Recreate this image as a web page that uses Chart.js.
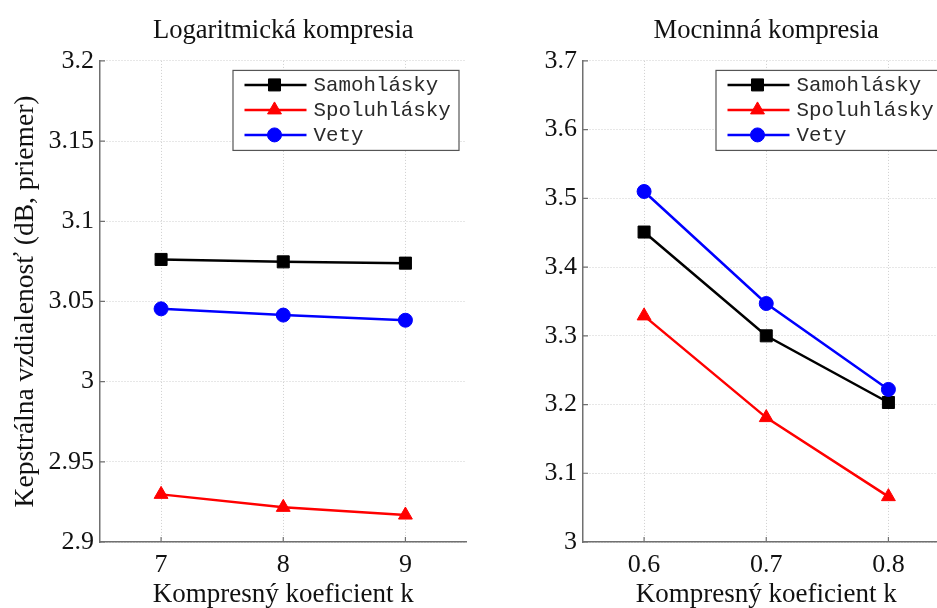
<!DOCTYPE html>
<html>
<head>
<meta charset="utf-8">
<script src="https://cdn.jsdelivr.net/npm/chart.js@4.4.1/dist/chart.umd.min.js"></script>
<style>
  body { margin: 0; width: 937px; height: 608px; overflow: hidden; background: #fff; position: relative; }
  #left { position: absolute; left: 0; top: 0; }
  #right { position: absolute; left: 470px; top: 0; }
</style>
</head>
<body>
<canvas id="left" width="476" height="608"></canvas>
<canvas id="right" width="489" height="608"></canvas>
<script>
'use strict';

let seriesNames = ['Samohlásky', 'Spoluhlásky', 'Vety'];
let seriesColors = ['black', 'red', 'blue'];
let seriesMarkers = ['rect', 'triangle', 'circle'];
let markerSizes = [8.5, 8, 7];

// logaritmicka kompresia
let logK = [7, 8, 9];
let logSamohlasky = [3.0762, 3.0747, 3.0739];
let logSpoluhlasky = [2.9297, 2.9216, 2.9168];
let logVety = [3.0454, 3.0415, 3.0383];
let logYTicks = [2.9, 2.95, 3, 3.05, 3.1, 3.15, 3.2];

// mocninna kompresia
let powK = [0.6, 0.7, 0.8];
let powSamohlasky = [3.451, 3.300, 3.203];
let powSpoluhlasky = [3.329, 3.181, 3.066];
let powVety = [3.510, 3.347, 3.222];
let powYTicks = [3, 3.1, 3.2, 3.3, 3.4, 3.5, 3.6, 3.7];

let serif = 'Liberation Serif, Times New Roman, serif';
let axisGray = '#707070';

function makeDatasets(kValues, seriesList) {
    let sets = [];
    for (let i = 0; i < seriesList.length; i++) {
        let points = [];
        for (let j = 0; j < kValues.length; j++) {
            points.push({ x: kValues[j], y: seriesList[i][j] });
        }
        sets.push({
            label: seriesNames[i],
            data: points,
            borderColor: seriesColors[i],
            backgroundColor: seriesColors[i],
            borderWidth: 2.5,
            pointStyle: seriesMarkers[i],
            pointRadius: markerSizes[i],
            pointBorderWidth: 1,
            order: seriesList.length - i
        });
    }
    return sets;
}

// legend box drawn inside the plot area, top right corner
let insideLegend = {
    id: 'insideLegend',
    afterDatasetsDraw(chart) {
        let ctx = chart.ctx;
        let area = chart.chartArea;
        let w = 226, h = 80;
        let x = area.right - 8 - w;
        let y = area.top + 9;
        ctx.save();
        ctx.fillStyle = '#fff';
        ctx.fillRect(x, y, w, h);
        ctx.strokeStyle = '#555';
        ctx.lineWidth = 1.2;
        ctx.strokeRect(x + 0.5, y + 0.5, w, h);
        ctx.font = '20.8px "Liberation Mono", "Courier New", monospace';
        ctx.textBaseline = 'middle';
        let sets = chart.data.datasets;
        for (let i = 0; i < sets.length; i++) {
            let ry = y + 15 + i * 25;
            ctx.strokeStyle = sets[i].borderColor;
            ctx.fillStyle = sets[i].backgroundColor;
            ctx.lineWidth = 2.5;
            ctx.beginPath();
            ctx.moveTo(x + 12, ry);
            ctx.lineTo(x + 74, ry);
            ctx.stroke();
            ctx.lineWidth = 1;
            Chart.helpers.drawPoint(ctx, {
                pointStyle: sets[i].pointStyle,
                radius: sets[i].pointRadius,
                borderWidth: 1,
                rotation: 0
            }, x + 42, ry);
            ctx.fillStyle = '#2a2a2a';
            ctx.fillText(sets[i].label, x + 81, ry + 1);
        }
        ctx.restore();
    }
};

// short inward tick marks on both axes
let innerTicks = {
    id: 'innerTicks',
    afterDraw(chart) {
        let ctx = chart.ctx;
        let area = chart.chartArea;
        let xs = chart.scales.x, ys = chart.scales.y;
        ctx.save();
        ctx.strokeStyle = axisGray;
        ctx.lineWidth = 1.2;
        ctx.beginPath();
        xs.ticks.forEach(t => {
            let px = xs.getPixelForValue(t.value);
            ctx.moveTo(px, area.bottom);
            ctx.lineTo(px, area.bottom - 5);
        });
        ys.ticks.forEach(t => {
            let py = ys.getPixelForValue(t.value);
            ctx.moveTo(area.left, py);
            ctx.lineTo(area.left + 5, py);
        });
        ctx.stroke();
        ctx.restore();
    }
};

function makeChart(canvasId, opts) {
    let ctx = document.getElementById(canvasId).getContext('2d');
    return new Chart(ctx, {
        type: 'line',
        data: { datasets: opts.datasets },
        plugins: [insideLegend, innerTicks],
        options: {
            responsive: false,
            animation: false,
            layout: { padding: { left: 0, right: opts.padRight, top: 0, bottom: 0 } },
            plugins: {
                legend: { display: false },
                tooltip: { enabled: false },
                title: {
                    display: true,
                    text: opts.title,
                    fullSize: false,
                    color: '#111',
                    font: { family: serif, size: 26.6, weight: 'normal', lineHeight: 1.2 },
                    padding: { top: 15, bottom: 14 }
                }
            },
            scales: {
                x: {
                    type: 'linear',
                    min: opts.xMin,
                    max: opts.xMax,
                    afterBuildTicks: s => { s.ticks = opts.xTicks.map(v => ({ value: v })); },
                    afterFit: s => { s.height = 66; s.paddingLeft = 0; s.paddingRight = 0; },
                    grid: { color: '#cfcfcf', drawTicks: false, lineWidth: 1 },
                    border: { color: axisGray, width: 1.5, dash: [1, 2] },
                    ticks: {
                        color: '#111',
                        padding: 8,
                        font: { family: serif, size: 26 },
                        callback: v => String(v)
                    },
                    title: {
                        display: true,
                        text: 'Kompresný koeficient k',
                        color: '#111',
                        font: { family: serif, size: 27, lineHeight: 1.0 },
                        padding: 0
                    }
                },
                y: {
                    min: opts.yMin,
                    max: opts.yMax,
                    afterBuildTicks: s => { s.ticks = opts.yTicks.map(v => ({ value: v })); },
                    afterFit: s => { s.width = opts.yWidth; s.paddingTop = 0; s.paddingBottom = 0; },
                    grid: { color: '#cfcfcf', drawTicks: false, lineWidth: 1 },
                    border: { color: axisGray, width: 1.5, dash: [1, 2] },
                    ticks: {
                        color: '#111',
                        padding: 6,
                        font: { family: serif, size: 26 },
                        callback: v => String(v)
                    },
                    title: {
                        display: opts.yTitle !== '',
                        text: opts.yTitle,
                        color: '#111',
                        font: { family: serif, size: 27.5 },
                        padding: { top: 9, bottom: 0 }
                    }
                }
            }
        }
    });
}

makeChart('left', {
    title: 'Logaritmická kompresia',
    datasets: makeDatasets(logK, [logSamohlasky, logSpoluhlasky, logVety]),
    xMin: 6.5, xMax: 9.5, xTicks: logK,
    yMin: 2.9, yMax: 3.2, yTicks: logYTicks,
    yWidth: 100, padRight: 4,
    yTitle: 'Kepstrálna vzdialenosť (dB, priemer)'
});

makeChart('right', {
    title: 'Mocninná kompresia',
    datasets: makeDatasets(powK, [powSamohlasky, powSpoluhlasky, powVety]),
    xMin: 0.55, xMax: 0.85, xTicks: powK,
    yMin: 3, yMax: 3.7, yTicks: powYTicks,
    yWidth: 113, padRight: 1,
    yTitle: ''
});
</script>
</body>
</html>
